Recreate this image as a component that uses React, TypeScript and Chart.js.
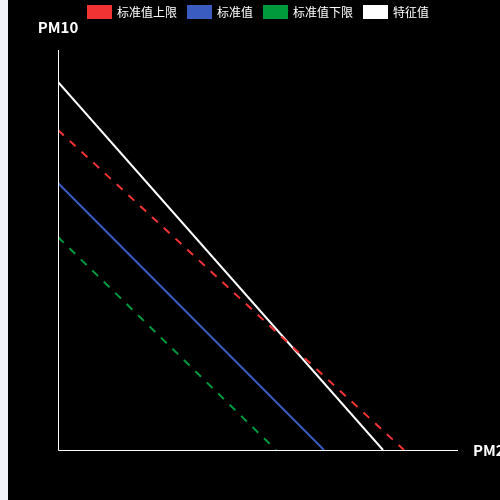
import React, { useEffect, useRef } from "react";
import { Chart, registerables } from "chart.js";

Chart.register(...registerables);

// Series names (legend order)
const seriesNames = ["标准值上限", "标准值", "标准值下限", "特征值"];
const seriesColors = ["#f23333", "#3a5bbf", "#009a3c", "#ffffff"];
const seriesDashed = [true, false, true, false];

// Each series is a straight line from (PM2.5 = 0, PM10 = y0) to (PM2.5 = x1, PM10 = 0)
const upperPm25 = [0, 346];
const upperPm10 = [320, 0];
const standardPm25 = [0, 266];
const standardPm10 = [267, 0];
const lowerPm25 = [0, 218];
const lowerPm10 = [213, 0];
const featurePm25 = [0, 325];
const featurePm10 = [368, 0];

const axisMax = [400, 400]; // x (PM2.5), y (PM10)
const xAxisName = "PM2.5";
const yAxisName = "PM10";

const seriesX = [upperPm25, standardPm25, lowerPm25, featurePm25];
const seriesY = [upperPm10, standardPm10, lowerPm10, featurePm10];

const FONT = "'Noto Sans CJK SC', 'Noto Sans', sans-serif";

const decorPlugin = {
  id: "decor",
  afterDraw(chart: any) {
    const ctx = chart.ctx as CanvasRenderingContext2D;
    const { left, right, top, bottom } = chart.chartArea;
    ctx.save();
    // axis lines
    ctx.strokeStyle = "#ffffff";
    ctx.lineWidth = 1;
    ctx.beginPath();
    ctx.moveTo(left + 0.5, top);
    ctx.lineTo(left + 0.5, bottom + 0.5);
    ctx.lineTo(right, bottom + 0.5);
    ctx.stroke();
    // axis names
    ctx.fillStyle = "#ffffff";
    ctx.font = `bold 15px ${FONT}`;
    ctx.textBaseline = "middle";
    ctx.textAlign = "center";
    ctx.fillText(yAxisName, left, top - 23);
    ctx.textAlign = "left";
    ctx.fillText(xAxisName, right + 15, bottom);
    // legend
    ctx.font = `12px ${FONT}`;
    const boxW = 25, boxH = 14, textGap = 5, itemGap = 10;
    const widths = seriesNames.map((n) => ctx.measureText(n).width);
    const total =
      widths.reduce((a, b) => a + b, 0) +
      seriesNames.length * (boxW + textGap) +
      (seriesNames.length - 1) * itemGap;
    let x = chart.width / 2 - total / 2;
    const yTop = 5;
    seriesNames.forEach((name, i) => {
      ctx.fillStyle = seriesColors[i];
      ctx.fillRect(x, yTop, boxW, boxH);
      x += boxW + textGap;
      ctx.fillStyle = "#ffffff";
      ctx.textAlign = "left";
      ctx.textBaseline = "middle";
      ctx.fillText(name, x, yTop + boxH / 2);
      x += widths[i] + itemGap;
    });
    ctx.restore();
  },
};

export default function App() {
  const canvasRef = useRef<HTMLCanvasElement | null>(null);

  useEffect(() => {
    document.body.style.background = "#f2f3f8";
    const canvas = canvasRef.current!;
    const chart = new Chart(canvas, {
      type: "line",
      data: {
        datasets: seriesNames.map((name, i) => ({
          label: name,
          data: seriesX[i].map((xv, j) => ({ x: xv, y: seriesY[i][j] })),
          borderColor: seriesColors[i],
          backgroundColor: seriesColors[i],
          borderWidth: 2,
          borderDash: seriesDashed[i] ? [8, 8] : [],
          pointRadius: 0,
          fill: false,
          tension: 0,
        })),
      },
      options: {
        animation: false,
        responsive: false,
        maintainAspectRatio: false,
        layout: { padding: { left: 50, right: 50, top: 50, bottom: 50 } },
        scales: {
          x: { type: "linear", min: 0, max: axisMax[0], display: false },
          y: { type: "linear", min: 0, max: axisMax[1], display: false },
        },
        plugins: {
          legend: { display: false },
          tooltip: { enabled: false },
        },
      },
      plugins: [decorPlugin],
    });
    return () => chart.destroy();
  }, []);

  return (
    <div
      style={{
        position: "absolute",
        left: 8,
        top: 0,
        width: 492,
        height: 500,
        overflow: "hidden",
        background: "#000",
      }}
    >
      <canvas
        ref={canvasRef}
        width={500}
        height={500}
        style={{ display: "block", width: 500, height: 500, background: "#000" }}
      />
    </div>
  );
}
